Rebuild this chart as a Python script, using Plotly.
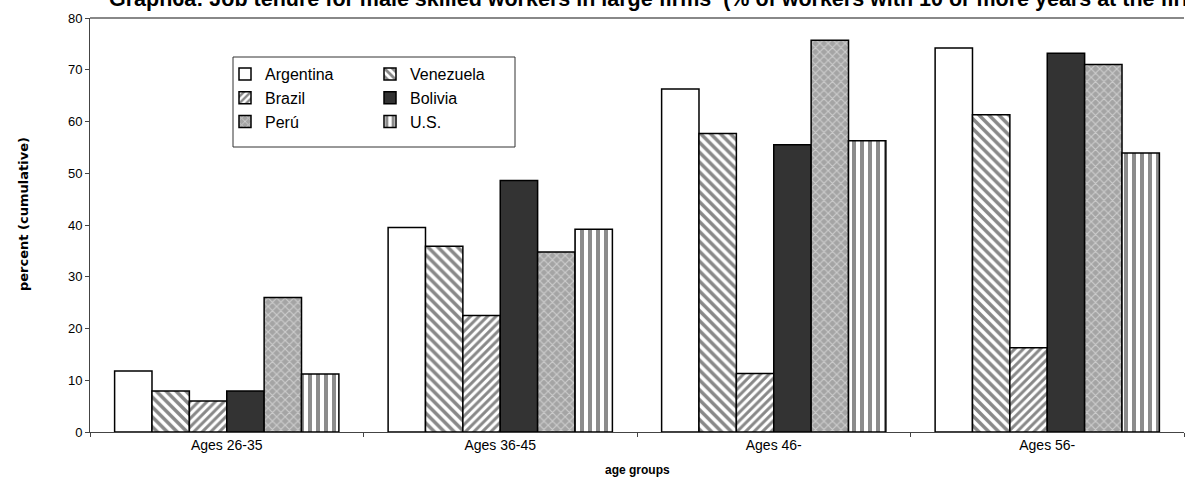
import plotly.graph_objects as go

categories = ["Ages 26-35", "Ages 36-45", "Ages 46-", "Ages 56-"]
countries = ["Argentina", "Venezuela", "Brazil", "Bolivia", "Perú", "U.S."]
argentina = [11.8, 39.5, 66.3, 74.2]
venezuela = [7.9, 35.9, 57.7, 61.3]
brazil = [6.0, 22.5, 11.3, 16.3]
bolivia = [7.9, 48.6, 55.5, 73.2]
peru = [26.0, 34.8, 75.7, 71.0]
us = [11.2, 39.2, 56.3, 53.9]
series = [argentina, venezuela, brazil, bolivia, peru, us]

title_text = "Graph6a: Job tenure for male skilled workers in large firms  (% of workers with 10 or more years at the firm)"

styles = {
    "Argentina": dict(color="white", pattern=dict(shape="")),
    "Venezuela": dict(color="white", pattern=dict(shape="\\", fgcolor="#111111", bgcolor="white", size=7, solidity=0.5)),
    "Brazil": dict(color="white", pattern=dict(shape="/", fgcolor="#111111", bgcolor="white", size=6, solidity=0.5)),
    "Bolivia": dict(color="#333333", pattern=dict(shape="")),
    "Perú": dict(color="#aaaaaa", pattern=dict(shape="x", fgcolor="#f4f4f4", bgcolor="#a4a4a4", size=6, solidity=0.35)),
    "U.S.": dict(color="white", pattern=dict(shape="|", fgcolor="#1a1a1a", bgcolor="white", size=8, solidity=0.5)),
}
legend_of = {"Argentina": "legend", "Brazil": "legend", "Perú": "legend",
             "Venezuela": "legend2", "Bolivia": "legend2", "U.S.": "legend2"}

fig = go.Figure()
for name, vals in zip(countries, series):
    st = styles[name]
    fig.add_trace(go.Bar(
        x=categories, y=vals, name=name, legend=legend_of[name],
        marker=dict(color=st["color"], pattern=st["pattern"],
                    line=dict(color="black", width=1.5)),
    ))

W, H = 1185, 480
L, R, T, B = 90, 1, 18, 48
pw, ph = W - L - R, H - T - B

def px_x(p):
    return (p - L) / pw

def px_y(p):
    return (H - B - p) / ph

fig.update_layout(
    width=W, height=H,
    margin=dict(l=L, r=R, t=T, b=B),
    paper_bgcolor="white", plot_bgcolor="white",
    barmode="group", bargap=0.18, bargroupgap=0,
    font=dict(family="Liberation Sans, Arial, sans-serif", color="black", size=13),
    legend=dict(x=px_x(225), y=px_y(57), xanchor="left", yanchor="top",
                bgcolor="rgba(0,0,0,0)", borderwidth=0, tracegroupgap=0,
                font=dict(size=16)),
    legend2=dict(x=px_x(370), y=px_y(57), xanchor="left", yanchor="top",
                 bgcolor="rgba(0,0,0,0)", borderwidth=0, tracegroupgap=0,
                 font=dict(size=16)),
    xaxis=dict(showline=True, linecolor="#444444", linewidth=1,
               ticks="outside", ticklen=4, tickcolor="#444444", tickson="boundaries",
               tickfont=dict(size=14), showgrid=False),
    yaxis=dict(range=[0, 80], dtick=10, showline=True, linecolor="#444444", linewidth=1,
               ticks="outside", ticklen=4, tickcolor="#444444",
               tickfont=dict(size=13), showgrid=False, zeroline=False),
    shapes=[
        dict(type="line", xref="paper", yref="paper", x0=0, x1=1, y0=1, y1=1,
             line=dict(color="#888888", width=2)),
        dict(type="rect", xref="paper", yref="paper",
             x0=px_x(233), x1=px_x(515), y0=px_y(147), y1=px_y(57),
             line=dict(color="#333333", width=1), fillcolor="rgba(0,0,0,0)"),
    ],
    annotations=[
        dict(text="<b>" + title_text + "</b>", xref="paper", yref="paper",
             x=px_x(107), y=1, xanchor="left", yanchor="bottom", yshift=5,
             showarrow=False, font=dict(size=21.5, family="Liberation Sans, Arial, sans-serif")),
        dict(text="<b>age groups</b>", xref="paper", yref="paper",
             x=0.5, y=px_y(470), xanchor="center", yanchor="middle",
             showarrow=False, font=dict(size=12)),
        dict(text="<b>percent (cumulative)</b>", xref="paper", yref="paper",
             x=px_x(23), y=px_y(214), xanchor="center", yanchor="middle", textangle=-90,
             showarrow=False, font=dict(size=13, family="DejaVu Sans, sans-serif")),
    ],
)

fig.write_html("out.html", config={"displayModeBar": False},
               post_script="document.body.style.margin='0';document.body.style.padding='0';")
